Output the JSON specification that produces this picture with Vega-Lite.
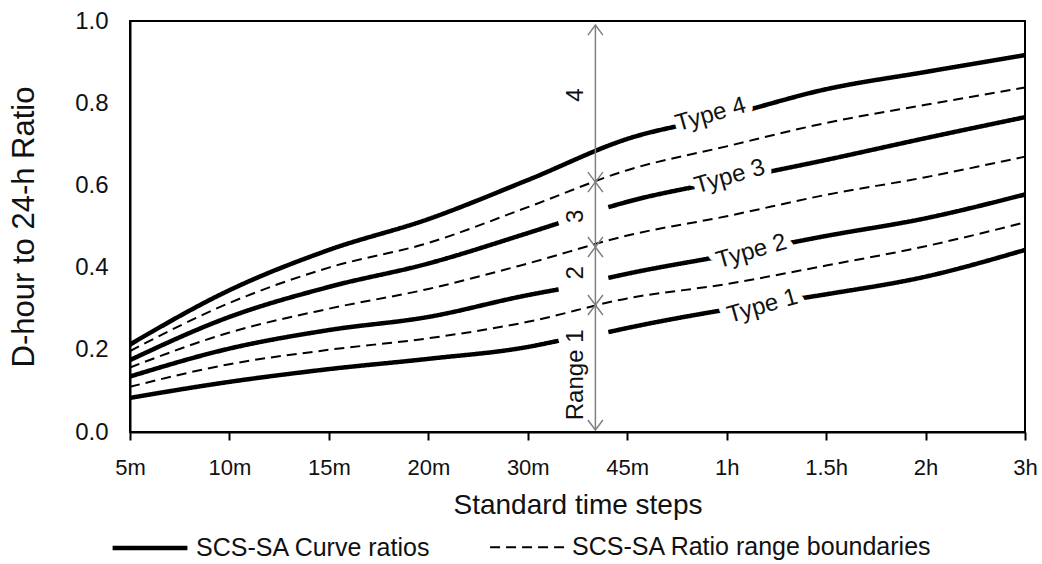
{
  "$schema": "https://vega.github.io/schema/vega-lite/v6.json",
  "width": 895,
  "height": 411,
  "autosize": "none",
  "padding": {"left": 130, "top": 21, "right": 17, "bottom": 132},
  "background": "white",
  "config": {
    "view": {"stroke": "#000", "strokeWidth": 2},
    "font": "Liberation Sans",
    "axis": {
      "grid": false,
      "domainColor": "#000",
      "domainWidth": 2,
      "labelColor": "#111",
      "titleColor": "#111",
      "labelFont": "Liberation Sans",
      "titleFont": "Liberation Sans",
      "titleFontWeight": "normal"
    }
  },
  "datasets": {
    "lines": [
      {"k": "curve", "s": "T1a", "step": 0, "ratio": 0.083},
      {"k": "curve", "s": "T1a", "step": 1, "ratio": 0.122},
      {"k": "curve", "s": "T1a", "step": 2, "ratio": 0.153},
      {"k": "curve", "s": "T1a", "step": 3, "ratio": 0.178},
      {"k": "curve", "s": "T1a", "step": 4, "ratio": 0.207},
      {"k": "curve", "s": "T1a", "step": 4.31, "ratio": 0.222},
      {"k": "curve", "s": "T1b", "step": 4.81, "ratio": 0.243},
      {"k": "curve", "s": "T1b", "step": 5, "ratio": 0.253},
      {"k": "curve", "s": "T1b", "step": 6, "ratio": 0.298},
      {"k": "curve", "s": "T1b", "step": 7, "ratio": 0.335},
      {"k": "curve", "s": "T1b", "step": 8, "ratio": 0.378},
      {"k": "curve", "s": "T1b", "step": 9, "ratio": 0.443},
      {"k": "curve", "s": "T2a", "step": 0, "ratio": 0.135},
      {"k": "curve", "s": "T2a", "step": 1, "ratio": 0.203},
      {"k": "curve", "s": "T2a", "step": 2, "ratio": 0.248},
      {"k": "curve", "s": "T2a", "step": 3, "ratio": 0.28},
      {"k": "curve", "s": "T2a", "step": 4, "ratio": 0.333},
      {"k": "curve", "s": "T2a", "step": 4.31, "ratio": 0.347},
      {"k": "curve", "s": "T2b", "step": 4.81, "ratio": 0.375},
      {"k": "curve", "s": "T2b", "step": 5, "ratio": 0.385},
      {"k": "curve", "s": "T2b", "step": 6, "ratio": 0.43},
      {"k": "curve", "s": "T2b", "step": 7, "ratio": 0.477},
      {"k": "curve", "s": "T2b", "step": 8, "ratio": 0.52},
      {"k": "curve", "s": "T2b", "step": 9, "ratio": 0.578},
      {"k": "curve", "s": "T3a", "step": 0, "ratio": 0.175},
      {"k": "curve", "s": "T3a", "step": 1, "ratio": 0.28},
      {"k": "curve", "s": "T3a", "step": 2, "ratio": 0.353},
      {"k": "curve", "s": "T3a", "step": 3, "ratio": 0.41},
      {"k": "curve", "s": "T3a", "step": 4, "ratio": 0.484},
      {"k": "curve", "s": "T3a", "step": 4.31, "ratio": 0.508},
      {"k": "curve", "s": "T3b", "step": 4.81, "ratio": 0.547},
      {"k": "curve", "s": "T3b", "step": 5, "ratio": 0.56},
      {"k": "curve", "s": "T3b", "step": 6, "ratio": 0.612},
      {"k": "curve", "s": "T3b", "step": 7, "ratio": 0.662},
      {"k": "curve", "s": "T3b", "step": 8, "ratio": 0.715},
      {"k": "curve", "s": "T3b", "step": 9, "ratio": 0.766},
      {"k": "curve", "s": "T4", "step": 0, "ratio": 0.213},
      {"k": "curve", "s": "T4", "step": 1, "ratio": 0.345},
      {"k": "curve", "s": "T4", "step": 2, "ratio": 0.443},
      {"k": "curve", "s": "T4", "step": 3, "ratio": 0.518},
      {"k": "curve", "s": "T4", "step": 4, "ratio": 0.613},
      {"k": "curve", "s": "T4", "step": 5, "ratio": 0.713},
      {"k": "curve", "s": "T4", "step": 6, "ratio": 0.77},
      {"k": "curve", "s": "T4", "step": 7, "ratio": 0.834},
      {"k": "curve", "s": "T4", "step": 8, "ratio": 0.876},
      {"k": "curve", "s": "T4", "step": 9, "ratio": 0.917},
      {"k": "bound", "s": "D1", "step": 0, "ratio": 0.11},
      {"k": "bound", "s": "D1", "step": 1, "ratio": 0.165},
      {"k": "bound", "s": "D1", "step": 2, "ratio": 0.2},
      {"k": "bound", "s": "D1", "step": 3, "ratio": 0.228},
      {"k": "bound", "s": "D1", "step": 4, "ratio": 0.268},
      {"k": "bound", "s": "D1", "step": 5, "ratio": 0.325},
      {"k": "bound", "s": "D1", "step": 6, "ratio": 0.36},
      {"k": "bound", "s": "D1", "step": 7, "ratio": 0.405},
      {"k": "bound", "s": "D1", "step": 8, "ratio": 0.452},
      {"k": "bound", "s": "D1", "step": 9, "ratio": 0.51},
      {"k": "bound", "s": "D2", "step": 0, "ratio": 0.157},
      {"k": "bound", "s": "D2", "step": 1, "ratio": 0.242},
      {"k": "bound", "s": "D2", "step": 2, "ratio": 0.3},
      {"k": "bound", "s": "D2", "step": 3, "ratio": 0.348},
      {"k": "bound", "s": "D2", "step": 4, "ratio": 0.41},
      {"k": "bound", "s": "D2", "step": 5, "ratio": 0.478},
      {"k": "bound", "s": "D2", "step": 6, "ratio": 0.525},
      {"k": "bound", "s": "D2", "step": 7, "ratio": 0.577},
      {"k": "bound", "s": "D2", "step": 8, "ratio": 0.62},
      {"k": "bound", "s": "D2", "step": 9, "ratio": 0.67},
      {"k": "bound", "s": "D3", "step": 0, "ratio": 0.197},
      {"k": "bound", "s": "D3", "step": 1, "ratio": 0.314},
      {"k": "bound", "s": "D3", "step": 2, "ratio": 0.4},
      {"k": "bound", "s": "D3", "step": 3, "ratio": 0.46},
      {"k": "bound", "s": "D3", "step": 4, "ratio": 0.547},
      {"k": "bound", "s": "D3", "step": 5, "ratio": 0.637},
      {"k": "bound", "s": "D3", "step": 6, "ratio": 0.695},
      {"k": "bound", "s": "D3", "step": 7, "ratio": 0.752},
      {"k": "bound", "s": "D3", "step": 8, "ratio": 0.796},
      {"k": "bound", "s": "D3", "step": 9, "ratio": 0.838}
    ],
    "typelabels": [
      {"label": "Type 4", "step": 5.84, "ratio": 0.772},
      {"label": "Type 3", "step": 6.03, "ratio": 0.621},
      {"label": "Type 2", "step": 6.25, "ratio": 0.439},
      {"label": "Type 1", "step": 6.36, "ratio": 0.306}
    ],
    "ranges": [
      {"range": "4", "step": 4.68, "top": 0.99, "bottom": 0.608},
      {"range": "3", "step": 4.68, "top": 0.608, "bottom": 0.45},
      {"range": "2", "step": 4.68, "top": 0.45, "bottom": 0.309},
      {"range": "1", "step": 4.68, "top": 0.309, "bottom": 0.005}
    ],
    "rangelabels": [
      {"label": "4", "step": 4.485, "ratio": 0.82},
      {"label": "3", "step": 4.485, "ratio": 0.525},
      {"label": "2", "step": 4.485, "ratio": 0.387},
      {"label": "Range 1", "step": 4.485, "ratio": 0.139}
    ]
  },
  "data": {"name": "lines"},
  "layer": [
    {
      "transform": [{"filter": "datum.k == 'curve'"}],
      "mark": {"type": "line", "interpolate": "monotone", "color": "#000", "strokeCap": "butt"},
      "encoding": {
        "x": {
          "field": "step", "type": "quantitative",
          "scale": {"domain": [0, 9], "nice": false, "zero": false},
          "axis": {
            "values": [0, 1, 2, 3, 4, 5, 6, 7, 8, 9],
            "labelExpr": "['5m','10m','15m','20m','30m','45m','1h','1.5h','2h','3h'][datum.value]",
            "ticks": true, "tickSize": 8, "tickColor": "#000", "tickWidth": 2,
            "labelFont": "Liberation Sans",
            "labelFontSize": 22, "labelPadding": 17, "labelFlush": false,
            "title": "Standard time steps", "titleFontSize": 28, "titlePadding": 13
          }
        },
        "y": {
          "field": "ratio", "type": "quantitative",
          "scale": {"domain": [0, 1], "nice": false, "zero": false},
          "axis": {
            "values": [0, 0.2, 0.4, 0.6, 0.8, 1.0],
            "format": ".1f",
            "ticks": false, "tickSize": 0,
            "labelFontSize": 24, "labelPadding": 22,
            "title": "D-hour to 24-h Ratio", "titleFontSize": 31, "titlePadding": 34
          }
        },
        "detail": {"field": "s"},
        "strokeDash": {
          "field": "k", "type": "nominal",
          "scale": {"domain": ["curve", "bound"], "range": [[1, 0], [10, 6]]},
          "legend": {
            "orient": "none", "legendX": -20, "legendY": 487,
            "direction": "horizontal", "title": null,
            "labelExpr": "datum.value == 'curve' ? 'SCS-SA Curve ratios' : 'SCS-SA Ratio range boundaries'",
            "labelFontSize": 25, "labelFont": "Liberation Sans", "labelColor": "#111",
            "labelLimit": 600,
            "symbolType": "stroke", "symbolSize": 5600, "symbolStrokeColor": "#000",
            "columnPadding": 55, "labelOffset": 6, "padding": 0,
            "encode": {
              "symbols": {
                "update": {
                  "strokeDash": {"signal": "datum.value == 'bound' ? [14, 9] : [1, 0]"},
                  "strokeWidth": {"signal": "datum.value == 'bound' ? 3 : 6"}
                }
              }
            }
          }
        },
        "strokeWidth": {
          "field": "k", "type": "nominal",
          "scale": {"domain": ["curve", "bound"], "range": [4.5, 2]},
          "legend": null
        }
      }
    },
    {
      "data": {"name": "typelabels"},
      "mark": {"type": "text", "angle": -16, "fontSize": 24, "font": "Liberation Sans", "fill": "#fff", "stroke": "#fff", "strokeWidth": 14, "strokeJoin": "round", "align": "center", "baseline": "middle"},
      "encoding": {
        "x": {"field": "step", "type": "quantitative"},
        "y": {"field": "ratio", "type": "quantitative"},
        "text": {"field": "label"}
      }
    },
    {
      "transform": [{"filter": "datum.k == 'bound'"}],
      "mark": {"type": "line", "interpolate": "monotone", "color": "#000", "strokeCap": "butt"},
      "encoding": {
        "x": {"field": "step", "type": "quantitative"},
        "y": {"field": "ratio", "type": "quantitative"},
        "detail": {"field": "s"},
        "strokeDash": {"field": "k", "type": "nominal"},
        "strokeWidth": {"field": "k", "type": "nominal", "legend": null}
      }
    },
    {
      "data": {"name": "ranges"},
      "mark": {"type": "rule", "color": "#808080", "strokeWidth": 1.5},
      "encoding": {
        "x": {"field": "step", "type": "quantitative"},
        "y": {"field": "top", "type": "quantitative"},
        "y2": {"field": "bottom"}
      }
    },
    {
      "data": {"name": "ranges"},
      "mark": {"type": "point", "shape": "M-1.5,2L0,0L1.5,2", "filled": false, "stroke": "#808080", "strokeWidth": 1.5, "size": 100, "opacity": 1},
      "encoding": {
        "x": {"field": "step", "type": "quantitative"},
        "y": {"field": "top", "type": "quantitative"}
      }
    },
    {
      "data": {"name": "ranges"},
      "mark": {"type": "point", "shape": "M-1.5,-2L0,0L1.5,-2", "filled": false, "stroke": "#808080", "strokeWidth": 1.5, "size": 100, "opacity": 1},
      "encoding": {
        "x": {"field": "step", "type": "quantitative"},
        "y": {"field": "bottom", "type": "quantitative"}
      }
    },
    {
      "data": {"name": "typelabels"},
      "mark": {"type": "text", "angle": -16, "fontSize": 24, "font": "Liberation Sans", "color": "#111", "align": "center", "baseline": "middle"},
      "encoding": {
        "x": {"field": "step", "type": "quantitative"},
        "y": {"field": "ratio", "type": "quantitative"},
        "text": {"field": "label"}
      }
    },
    {
      "data": {"name": "rangelabels"},
      "mark": {"type": "text", "angle": -90, "fontSize": 24, "font": "Liberation Sans", "color": "#111", "align": "center", "baseline": "middle"},
      "encoding": {
        "x": {"field": "step", "type": "quantitative"},
        "y": {"field": "ratio", "type": "quantitative"},
        "text": {"field": "label"}
      }
    }
  ]
}
